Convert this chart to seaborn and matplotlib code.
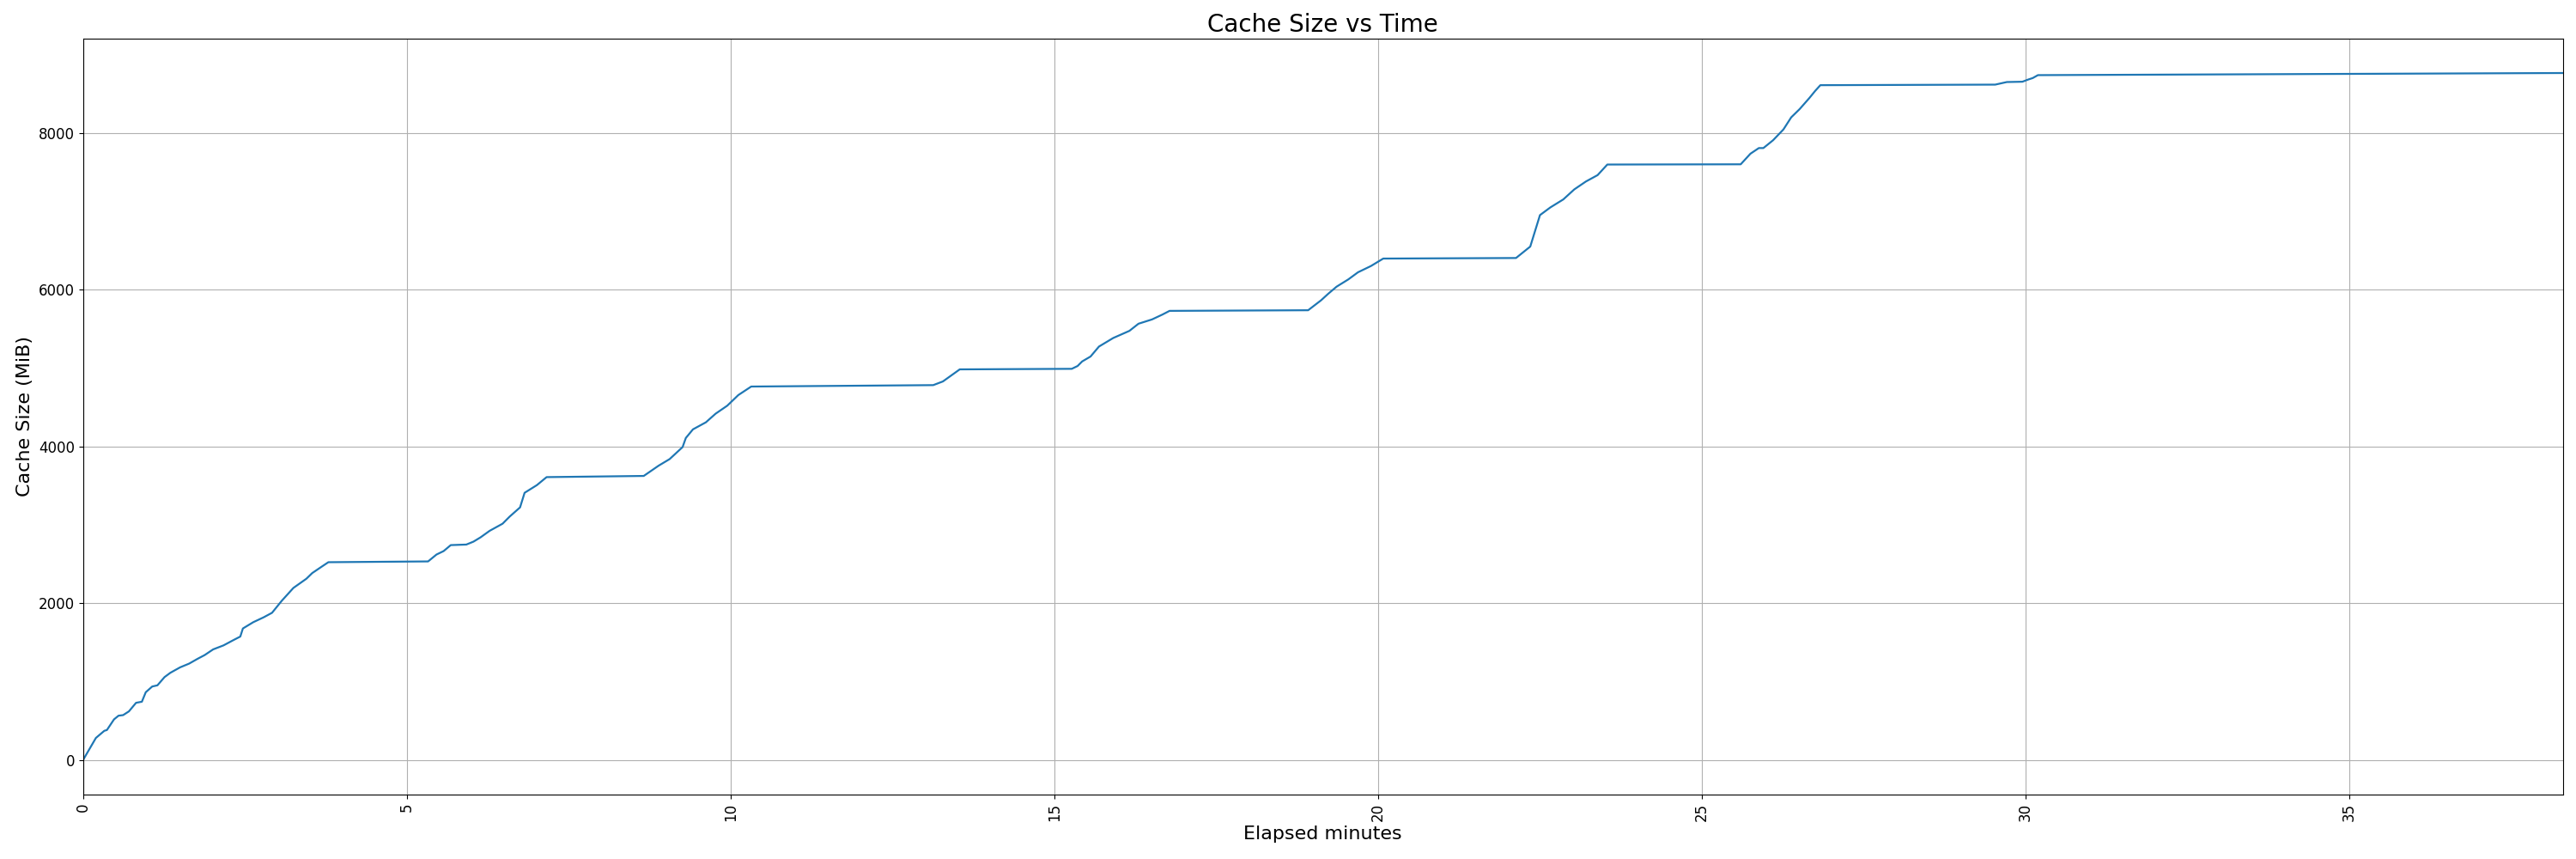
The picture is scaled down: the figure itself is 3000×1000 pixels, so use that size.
import matplotlib
matplotlib.use("Agg")
import matplotlib.pyplot as plt
import seaborn as sns
import numpy as np
import pandas as pd

# elapsed time (minutes) and cache size (MiB)
minutes = [
    0.0, 0.2, 0.33, 0.37, 0.48, 0.55, 0.62, 0.71, 0.82, 0.91, 0.97, 1.07, 1.15,
    1.26, 1.35, 1.50, 1.64, 1.77, 1.88, 2.01, 2.17, 2.32, 2.43, 2.47, 2.63, 2.79,
    2.92, 3.07, 3.25, 3.45, 3.54, 3.69, 3.79,
    5.33, 5.46, 5.57, 5.68, 5.92, 6.03, 6.14, 6.28, 6.48, 6.59, 6.75, 6.82, 7.01,
    7.16, 8.66, 8.89, 9.06, 9.26, 9.31, 9.42, 9.62, 9.77, 9.95, 10.12, 10.32,
    13.13, 13.28, 13.54, 15.27, 15.36, 15.43, 15.56, 15.69, 15.91, 16.16, 16.30,
    16.51, 16.67, 16.78, 18.92, 19.12, 19.23, 19.36, 19.54, 19.69, 19.89, 20.08,
    22.13, 22.35, 22.50, 22.66, 22.86, 23.03, 23.21, 23.39, 23.54,
    25.60, 25.75, 25.88, 25.95, 26.10, 26.26, 26.38, 26.51, 26.66, 26.75, 26.83,
    29.53, 29.71, 29.95, 30.04, 30.11, 30.19, 33.2, 38.3,
]
cache_mib = [
    0, 284, 375, 385, 521, 568, 575, 623, 732, 746, 867, 940, 955,
    1060, 1115, 1184, 1232, 1293, 1341, 1413, 1464, 1530, 1577, 1680, 1760, 1822,
    1880, 2033, 2197, 2314, 2386, 2470, 2525,
    2535, 2623, 2667, 2743, 2750, 2787, 2842, 2925, 3016, 3107, 3224, 3410, 3508,
    3610, 3625, 3756, 3840, 3993, 4109, 4219, 4309, 4419, 4521, 4656, 4765,
    4783, 4830, 4984, 4991, 5027, 5085, 5148, 5275, 5384, 5475, 5566,
    5621, 5683, 5730, 5738, 5865, 5948, 6039, 6131, 6222, 6302, 6397,
    6404, 6550, 6951, 7049, 7151, 7279, 7380, 7461, 7596,
    7599, 7734, 7806, 7806, 7906, 8044, 8198, 8303, 8444, 8535, 8608,
    8615, 8648, 8652, 8680, 8699, 8736, 8746, 8763,
]

df = pd.DataFrame({"Elapsed minutes": minutes, "Cache Size (MiB)": cache_mib})

fig, ax = plt.subplots(figsize=(30, 10), dpi=100)
sns.lineplot(data=df, x="Elapsed minutes", y="Cache Size (MiB)", ax=ax,
             color="#1f77b4", linewidth=1.6)
ax.set_xlim(0, max(minutes))
ax.set_title("Cache Size vs Time", fontsize=20)
ax.set_xlabel("Elapsed minutes", fontsize=16)
ax.set_ylabel("Cache Size (MiB)", fontsize=16)
ax.tick_params(axis="both", labelsize=12)
ax.tick_params(axis="x", labelrotation=90)
ax.grid(True)

fig.subplots_adjust(left=0.0322, right=0.995, bottom=0.075, top=0.955)
plt.savefig("out.png", dpi=100)
plt.close()
